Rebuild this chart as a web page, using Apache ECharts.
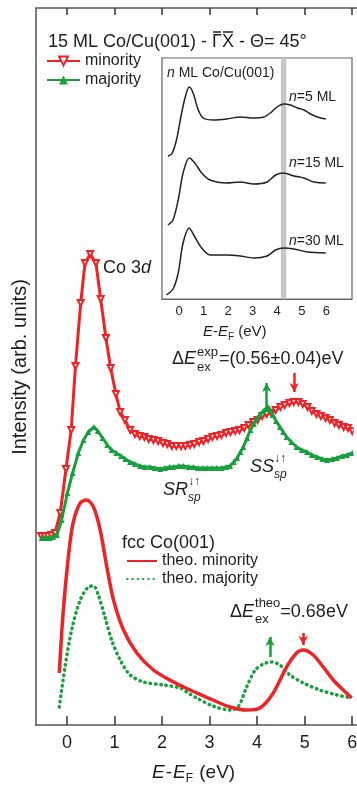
<!DOCTYPE html>
<html><head><meta charset="utf-8">
<script src="https://cdn.jsdelivr.net/npm/echarts@6/dist/echarts.min.js"></script>
<style>html,body{margin:0;padding:0;background:#fff;overflow:hidden}#c{width:357px;height:786px}</style>
</head><body><div id="c"></div>
<script>
// ---------------- data ----------------
// experimental, 15 ML Co/Cu(001), minority (eV, arb. units)
const expMinE = [-0.54,-0.47,-0.40,-0.33,-0.25,-0.14,-0.02,0.09,0.18,0.29,0.38,0.49,0.61,0.71,0.82,0.92,1.03,1.12,1.22,1.33,1.43,1.53,1.63,1.72,1.82,1.92,2.02,2.11,2.21,2.30,2.40,2.49,2.59,2.68,2.78,2.87,2.97,3.06,3.16,3.25,3.35,3.44,3.54,3.63,3.73,3.82,3.92,4.01,4.11,4.20,4.30,4.39,4.49,4.58,4.68,4.77,4.87,4.96,5.06,5.15,5.25,5.34,5.44,5.53,5.63,5.72,5.82,5.91,6.00];
const expMinority = [189,189,189,190,192,212,256,295,359,422,462,471,462,426,387,357,331,313,305,295,291,289,288,286,285,284,282,281,279,279,279,279,280,281,283,284,286,288,289,290,292,293,294,295,297,300,303,305,309,311,312,315,318,320,322,323,323,321,318,314,311,309,307,305,302,300,298,297,294];
// experimental majority
const expMajE = [-0.53,-0.45,-0.37,-0.29,-0.21,-0.11,0.01,0.12,0.24,0.35,0.45,0.57,0.65,0.75,0.85,0.94,1.04,1.14,1.23,1.33,1.43,1.54,1.64,1.75,1.85,1.96,2.06,2.16,2.24,2.35,2.45,2.56,2.66,2.76,2.86,2.95,3.05,3.15,3.25,3.35,3.43,3.51,3.58,3.65,3.71,3.79,3.86,3.93,4.00,4.07,4.13,4.18,4.23,4.28,4.33,4.40,4.48,4.55,4.62,4.72,4.83,4.94,5.05,5.15,5.26,5.37,5.47,5.58,5.68,5.79,5.89,6.00];
const expMajority = [187,187,187,188,190,205,232,252,272,285,293,298,294,287,280,275,272,269,266,263,261,259,258,258,257,256,257,258,258,259,259,258,258,257,257,257,257,257,257,258,259,263,267,273,278,287,295,301,307,311,314,316,318,315,310,304,298,293,288,283,278,275,273,270,268,266,265,266,267,269,270,272];
// theory, fcc Co(001)
const theoMinE = [-0.16,-0.08,0.03,0.13,0.28,0.42,0.56,0.70,0.84,0.98,1.19,1.47,1.82,2.24,2.59,2.73,3.07,3.43,3.78,4.06,4.34,4.62,4.83,4.97,5.18,5.39,5.60,5.81,5.99];
const theoMinority = [52,112,168,202,222,225,218,195,158,125,95,72,55,43,35,32,25,18,15,17,32,58,72,75,70,58,45,35,27];
const theoMajE = [-0.16,-0.04,0.10,0.28,0.45,0.56,0.66,0.80,0.94,1.12,1.33,1.61,2.03,2.38,2.55,2.73,3.07,3.43,3.60,3.78,3.96,4.13,4.31,4.48,4.69,4.97,5.32,5.68,5.99];
const theoMajority = [18,58,95,125,138,139,130,108,85,65,50,43,40,37,32,27,19,15,18,38,55,61,63,60,50,42,35,30,27];
// inset: n ML Co/Cu(001)
const n5E = [-0.46,-0.30,-0.11,0.10,0.27,0.41,0.57,0.78,0.98,1.39,1.94,2.49,3.04,3.45,3.72,3.99,4.27,4.54,4.82,5.09,5.36,5.64,5.98];
const n5 = [143,145,159,186,204,212,206,189,181,179,180,182,181,182,186,192,195,194,191,189,185,182,180];
const n15E = [-0.46,-0.25,-0.04,0.16,0.41,0.64,0.92,1.26,1.94,2.49,3.04,3.59,3.93,4.27,4.68,5.09,5.50,5.98];
const n15 = [74,79,99,126,141,136,126,119,116,117,115,117,124,126,123,121,117,116];
const n30E = [-0.52,-0.25,-0.04,0.16,0.41,0.64,0.92,1.26,1.94,2.49,3.04,3.59,3.93,4.27,4.68,5.23,5.98];
const n30 = [4,10,26,56,71,62,51,44,44,43,41,43,49,51,50,47,46];
const insetBand = [4.15, 4.37];
const xTicks = [0,1,2,3,4,5,6];
// arrows: [energy, from, to, colorKey]
const arrowMarks = [[4.20,318,342,'g'],[4.78,352,333,'r'],[4.27,68,88,'g'],[4.97,92,80,'r']];

// ---------------- style ----------------
const FAMILY = '"Liberation Sans", Arial, sans-serif';
const INK = '#1e1e1e';
const RED = '#ee2326';
const GREEN = '#17a03c';
const AX = '#555';
const pairs = (a,b)=>a.map((x,i)=>[x,b[i]]);

const mctx = document.createElement('canvas').getContext('2d');
function tw(t,size,italic){ mctx.font=(italic?'italic ':'')+size+'px '+FAMILY; return mctx.measureText(t).width; }
function T(x,y,t,size,italic,extra){
  const el={type:'text',x:x,y:y,silent:true,z:100,
    style:{text:t,fontSize:size,fontFamily:FAMILY,fontStyle:italic?'italic':'normal',fill:INK,align:'left',verticalAlign:'middle'}};
  if(extra){ if(extra.style) Object.assign(el.style,extra.style); if(extra.rotation!==undefined) el.rotation=extra.rotation; }
  return el;
}
function runs(x,y,parts){
  const out=[]; let cx=x;
  for(const p of parts){
    if(p.sup!==undefined){
      out.push(T(cx,y+p.supDy,p.sup,p.size,p.supItalic));
      out.push(T(cx,y+p.subDy,p.sub,p.size,p.subItalic));
      cx+=Math.max(tw(p.sup,p.size,p.supItalic),tw(p.sub,p.size,p.subItalic))+(p.gap||0);
    } else {
      out.push(T(cx,y+(p.dy||0),p.t,p.size,p.italic));
      cx+=tw(p.t,p.size,p.italic)+(p.gap||0);
    }
  }
  return out;
}
let graphics=[];
// white strip at the right edge of the main frame (the reference frame is open there)
graphics.push({type:'rect',silent:true,z:50,shape:{x:353.6,y:9,width:5,height:715},style:{fill:'#fff'}});
// main title with overlined Gamma X
(function(){
  const s=18, y=42, x0=48;
  const a='15 ML Co/Cu(001) - ';
  graphics.push(T(x0,y,a,s,false));
  let cx=x0+tw(a,s,false);
  ['\u0393','X'].forEach(ch=>{
    const w=tw(ch,s,false);
    graphics.push(T(cx,y,ch,s,false));
    graphics.push({type:'line',silent:true,z:100,shape:{x1:cx+1,y1:y-10,x2:cx+w-1,y2:y-10},style:{stroke:INK,lineWidth:1.5}});
    cx+=w;
  });
  graphics.push(T(cx,y,' - \u0398= 45\u00b0',s,false));
})();
graphics = graphics.concat(runs(103,268,[{t:'Co 3',size:18},{t:'d',size:18,italic:true}]));
graphics = graphics.concat(runs(172,359,[{t:'\u0394',size:18},{t:'E',size:18,italic:true,gap:1},{sup:'exp',sub:'ex',size:13,supDy:-7,subDy:8,gap:1},{t:'=(0.56\u00b10.04)eV',size:18}]));
graphics = graphics.concat(runs(250,467,[{t:'SS',size:18,italic:true},{sup:'\u2193\u2191',sub:'sp',size:12,supDy:-8,subDy:8,subItalic:true}]));
graphics = graphics.concat(runs(163,490,[{t:'SR',size:18,italic:true},{sup:'\u2193\u2191',sub:'sp',size:12,supDy:-8,subDy:8,subItalic:true}]));
graphics.push(T(122,543,'fcc Co(001)',18,false));
graphics = graphics.concat(runs(230,612,[{t:'\u0394',size:18},{t:'E',size:18,italic:true,gap:1},{sup:'theo',sub:'ex',size:13,supDy:-9,subDy:7,gap:0},{t:'=0.68eV',size:18}]));
graphics = graphics.concat(runs(152,773,[{t:'E',size:19,italic:true,gap:1},{t:'-',size:19,gap:1},{t:'E',size:19,italic:true},{t:'F',size:12,dy:6,gap:1},{t:' (eV)',size:19}]));
graphics.push(T(20,367,'Intensity (arb. units)',20,false,{rotation:Math.PI/2,style:{align:'center'}}));
graphics = graphics.concat(runs(167,73,[{t:'n',size:14,italic:true},{t:' ML Co/Cu(001)',size:14}]));
graphics = graphics.concat(runs(289,97,[{t:'n',size:14,italic:true},{t:'=5 ML',size:14}]));
graphics = graphics.concat(runs(289,163,[{t:'n',size:14,italic:true},{t:'=15 ML',size:14}]));
graphics = graphics.concat(runs(289,241,[{t:'n',size:14,italic:true},{t:'=30 ML',size:14}]));
graphics = graphics.concat(runs(203,332,[{t:'E',size:15,italic:true},{t:'-',size:15},{t:'E',size:15,italic:true},{t:'F',size:10,dy:5},{t:' (eV)',size:15}]));

const chart = echarts.init(document.getElementById('c'), null, {renderer:'canvas',width:357,height:786});
const axLine = ()=>({show:true,onZero:false,lineStyle:{color:AX,width:1.5}});
const inLine = ()=>({show:true,onZero:false,lineStyle:{color:'#666',width:1.2}});
const mainMin = -0.65, mainMax = 6.5;
chart.setOption({
  animation:false,
  backgroundColor:'#fff',
  textStyle:{fontFamily:FAMILY},
  grid:[
    {left:36,top:8,width:340,height:717,show:false,outerBoundsMode:'none',containLabel:false},
    {left:162,top:58,width:190,height:241,show:true,borderColor:'#666',borderWidth:1.2,backgroundColor:'#fff',z:1,outerBoundsMode:'none',containLabel:false}
  ],
  xAxis:[
    {gridIndex:0,type:'value',min:mainMin,max:mainMax,position:'bottom',axisLine:axLine(),
      axisTick:{show:true,inside:true,length:9,customValues:xTicks,lineStyle:{color:'#333',width:1.5}},
      axisLabel:{show:true,customValues:xTicks,fontSize:18,color:INK,margin:9,fontFamily:FAMILY},
      splitLine:{show:false},minorTick:{show:false}},
    {gridIndex:0,type:'value',min:mainMin,max:mainMax,position:'top',axisLine:axLine(),
      axisTick:{show:true,inside:true,length:7,customValues:xTicks,lineStyle:{color:'#333',width:1.5}},
      axisLabel:{show:false},splitLine:{show:false}},
    {gridIndex:1,type:'value',min:-0.7,max:7.05,position:'bottom',axisLine:inLine(),
      axisTick:{show:true,inside:true,length:5,customValues:xTicks,lineStyle:{color:'#444',width:1.2}},
      axisLabel:{show:true,customValues:xTicks,fontSize:13,color:INK,margin:6,fontFamily:FAMILY},
      splitLine:{show:false}},
    {gridIndex:1,type:'value',min:-0.7,max:7.05,position:'top',axisLine:inLine(),
      axisTick:{show:true,inside:true,length:5,customValues:xTicks,lineStyle:{color:'#444',width:1.2}},
      axisLabel:{show:false},splitLine:{show:false}}
  ],
  yAxis:[
    {gridIndex:0,type:'value',min:0,max:717,position:'left',axisLine:axLine(),axisTick:{show:false},axisLabel:{show:false},splitLine:{show:false}},
    {gridIndex:1,type:'value',min:0,max:241,position:'left',axisLine:inLine(),axisTick:{show:false},axisLabel:{show:false},splitLine:{show:false}}
  ],
  legend:[
    {data:['minority','majority'],left:46,top:53,padding:0,orient:'vertical',itemWidth:33,itemHeight:11,itemGap:3,
      textStyle:{fontSize:16,color:INK,fontFamily:FAMILY}},
    {data:[{name:'theo. minority',itemStyle:{opacity:0}},{name:'theo. majority',itemStyle:{opacity:0}}],
      left:126,top:553,padding:0,orient:'vertical',itemWidth:30,itemHeight:10,itemGap:2,
      textStyle:{fontSize:16,color:INK,fontFamily:FAMILY}}
  ],
  graphic:graphics,
  series:[
    {name:'minority',type:'line',xAxisIndex:0,yAxisIndex:0,data:pairs(expMinE,expMinority),
      symbol:'emptyTriangle',symbolRotate:180,symbolSize:6,showAllSymbol:true,
      itemStyle:{color:RED,borderWidth:1.2},lineStyle:{color:RED,width:3},z:3},
    {name:'majority',type:'line',xAxisIndex:0,yAxisIndex:0,data:pairs(expMajE,expMajority),
      symbol:'triangle',symbolSize:6,showAllSymbol:true,
      itemStyle:{color:GREEN},lineStyle:{color:GREEN,width:3},z:4},
    {name:'theo. majority',type:'line',xAxisIndex:0,yAxisIndex:0,data:pairs(theoMajE,theoMajority),
      symbol:'none',smooth:0.3,itemStyle:{color:GREEN},lineStyle:{color:GREEN,width:3.5,type:[0.5,4.8],cap:'round'},z:3},
    {name:'theo. minority',type:'line',xAxisIndex:0,yAxisIndex:0,data:pairs(theoMinE,theoMinority),
      symbol:'none',smooth:0.3,itemStyle:{color:RED},lineStyle:{color:RED,width:3.5},z:4},
    {name:'arrows',type:'line',xAxisIndex:0,yAxisIndex:0,data:[],z:5,
      markLine:{silent:true,symbol:['none','arrow'],symbolSize:[7,9],label:{show:false},
        data:arrowMarks.map(a=>[{coord:[a[0],a[1]],lineStyle:{color:a[3]==='g'?GREEN:RED,width:2.5,type:'solid'}},{coord:[a[0],a[2]]}])}},
    {name:'band',type:'line',xAxisIndex:2,yAxisIndex:1,data:[],z:2,
      markArea:{silent:true,itemStyle:{color:'#c6c6c6'},data:[[{xAxis:insetBand[0]},{xAxis:insetBand[1]}]]}},
    {name:'n5',type:'line',xAxisIndex:2,yAxisIndex:1,data:pairs(n5E,n5),symbol:'none',smooth:0.3,lineStyle:{color:'#222',width:1.5},z:3},
    {name:'n15',type:'line',xAxisIndex:2,yAxisIndex:1,data:pairs(n15E,n15),symbol:'none',smooth:0.3,lineStyle:{color:'#222',width:1.5},z:3},
    {name:'n30',type:'line',xAxisIndex:2,yAxisIndex:1,data:pairs(n30E,n30),symbol:'none',smooth:0.3,lineStyle:{color:'#222',width:1.5},z:3}
  ]
});
</script></body></html>
